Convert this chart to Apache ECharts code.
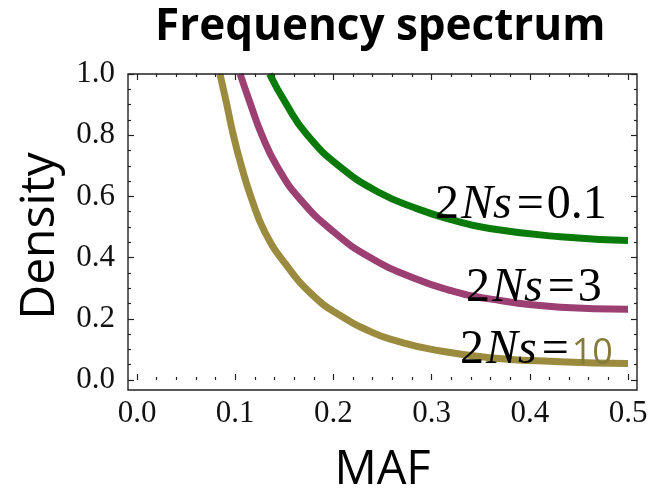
<!DOCTYPE html>
<html>
<head>
<meta charset="utf-8">
<script src="https://cdn.jsdelivr.net/npm/echarts@6/dist/echarts.min.js"></script>
<style>html,body{margin:0;padding:0;background:#fff}#c{width:652px;height:499px}</style>
</head>
<body>
<div id="c"></div>
<script>
// MAF values and densities
var mafGreen = [0.135,0.151,0.173,0.207,0.247,0.285,0.32,0.359,0.431,0.50];
var densGreen = [1.0,0.907,0.802,0.696,0.612,0.560,0.524,0.495,0.468,0.456];
var mafMagenta = [0.105,0.115,0.127,0.143,0.166,0.200,0.237,0.281,0.32,0.359,0.431,0.50];
var densMagenta = [1.0,0.907,0.802,0.696,0.591,0.485,0.401,0.334,0.292,0.265,0.238,0.231];
var mafOlive = [0.0845,0.091,0.098,0.1066,0.1168,0.130,0.151,0.180,0.207,0.24,0.265,0.30,0.359,0.431,0.50];
var densOlive = [1.0,0.907,0.802,0.696,0.591,0.485,0.38,0.274,0.211,0.155,0.127,0.10,0.073,0.06,0.054];
var curveLabels = [
  [{t:'2', k:'num'}, {t:'Ns', k:'ital'}, {t:'=', k:'eq'}, {t:'0.1', k:'num'}],
  [{t:'2', k:'num'}, {t:'Ns', k:'ital'}, {t:'=', k:'eq'}, {t:'3', k:'num'}],
  [{t:'2', k:'num'}, {t:'Ns', k:'ital'}, {t:'=', k:'eq'}, {t:'10', k:'ten'}]
];

function pairs(xs, ys){ return xs.map(function(x,i){ return [x, ys[i]]; }); }

var chart = echarts.init(document.getElementById('c'), null, {renderer:'canvas'});
var axisCol = '#222';
var labelFont = {fontFamily:'Liberation Serif', fontSize:31, color:'#111'};
function fmt(v){ return (+v).toFixed(1); }

var partStyle = {
  num:{font:'48px "Liberation Serif"', fill:'#000', size:48, pad:0},
  ital:{font:'italic 48px "Liberation Serif"', fill:'#000', size:48, pad:2},
  eq:{font:'48px "Liberation Serif"', fill:'#000', size:48, pad:3},
  ten:{font:'36px "Open Sans"', fill:'#857a3a', size:36, pad:0}
};
var mctx = document.createElement('canvas').getContext('2d');
// label anchor: left x and baseline y (pixel placement of the annotation text)
var labelAnchors = [[435, 220], [466, 303], [460, 365]];
var labelGraphics = [];
curveLabels.forEach(function(parts, li){
  var x = labelAnchors[li][0], base = labelAnchors[li][1];
  parts.forEach(function(p){
    var st = partStyle[p.k];
    x += st.pad;
    labelGraphics.push({type:'text', x:x, y:base - 0.3*st.size, z:101, silent:true,
      style:{text:p.t, font:st.font, fill:st.fill, align:'left', verticalAlign:'middle'}});
    mctx.font = st.font;
    x += mctx.measureText(p.t).width + st.pad;
  });
});

function tick(len){ return {show:true, inside:true, length:len, lineStyle:{color:axisCol, width:1.2}}; }

chart.setOption({
  animation:false,
  title:{text:'Frequency spectrum', left:150, top:0,
    textStyle:{fontFamily:'Open Sans', fontWeight:'bold', fontSize:44, color:'#000'}},
  grid:{left:137, right:24, top:74, bottom:109, containLabel:false},
  xAxis:[
    {type:'value', position:'bottom', min:0, max:0.5, interval:0.1,
     name:'MAF', nameLocation:'middle', nameGap:67,
     nameTextStyle:{fontFamily:'Open Sans', fontSize:47, color:'#000'},
     axisLine:{show:false, onZero:false}, splitLine:{show:false},
     axisTick:tick(6),
     minorTick:Object.assign(tick(3), {splitNumber:5}),
     axisLabel:Object.assign({margin:18, formatter:fmt}, labelFont)},
    {type:'value', position:'top', min:0, max:0.5, interval:0.1,
     axisLine:{show:false, onZero:false}, splitLine:{show:false}, axisLabel:{show:false},
     axisTick:tick(6),
     minorTick:Object.assign(tick(3), {splitNumber:5})}
  ],
  yAxis:[
    {type:'value', position:'left', offset:9, min:0, max:1, interval:0.2,
     name:'Density', nameLocation:'middle', nameGap:64, nameRotate:90,
     nameTextStyle:{fontFamily:'Open Sans', fontSize:48, color:'#000', padding:[0,18,0,0]},
     axisLine:{show:false, onZero:false}, splitLine:{show:false},
     axisTick:tick(6),
     minorTick:Object.assign(tick(3), {splitNumber:4}),
     axisLabel:Object.assign({margin:13, formatter:fmt}, labelFont)},
    {type:'value', position:'right', offset:9, min:0, max:1, interval:0.2,
     axisLine:{show:false, onZero:false}, splitLine:{show:false}, axisLabel:{show:false},
     axisTick:tick(6),
     minorTick:Object.assign(tick(3), {splitNumber:4})}
  ],
  graphic:[
    {type:'rect', shape:{x:128, y:74, width:509, height:316}, z:100, silent:true,
     style:{fill:'none', stroke:axisCol, lineWidth:1.4}}
  ].concat(labelGraphics),
  series:[
    {type:'line', name:'2Ns=0.1', data:pairs(mafGreen, densGreen), smooth:0.5, symbol:'none',
     lineStyle:{color:'#0a7a0a', width:7}},
    {type:'line', name:'2Ns=3', data:pairs(mafMagenta, densMagenta), smooth:0.5, symbol:'none',
     lineStyle:{color:'#9c3f72', width:7}},
    {type:'line', name:'2Ns=10', data:pairs(mafOlive, densOlive), smooth:0.5, symbol:'none',
     lineStyle:{color:'#9a8b3e', width:7}}
  ]
});
</script>
</body>
</html>
